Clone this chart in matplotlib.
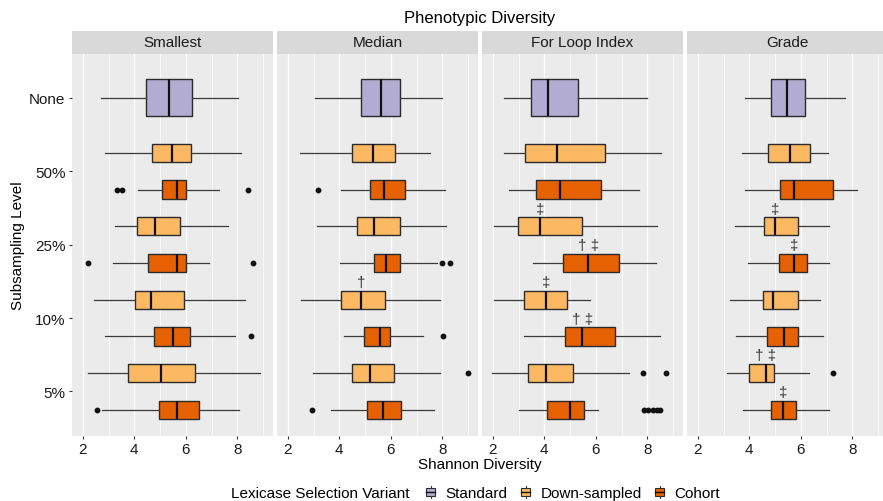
import matplotlib
matplotlib.use("Agg")
import matplotlib.pyplot as plt
from matplotlib.patches import Rectangle, Patch
from matplotlib.lines import Line2D
from matplotlib.legend_handler import HandlerBase

plt.rcParams["font.family"] = ["Liberation Sans", "DejaVu Sans"]

panels = ["Smallest", "Median", "For Loop Index", "Grade"]
levels = ["5%", "10%", "25%", "50%", "None"]
variants = ["Standard", "Down-sampled", "Cohort"]
colors = {"Standard": "#b2abd2", "Down-sampled": "#fdb863", "Cohort": "#e66101"}

# level, variant, whisker low, q1, median, q3, whisker high, outliers, significance mark
smallest = [
    ("None", "Standard", 2.70, 4.44, 5.34, 6.24, 8.02, [], ""),
    ("50%", "Down-sampled", 2.88, 4.68, 5.47, 6.20, 8.13, [], ""),
    ("50%", "Cohort", 4.16, 5.09, 5.65, 6.02, 7.28, [3.32, 3.53, 8.43], ""),
    ("25%", "Down-sampled", 3.25, 4.12, 4.82, 5.79, 7.63, [], ""),
    ("25%", "Cohort", 3.19, 4.55, 5.66, 6.00, 6.90, [2.19, 8.60], ""),
    ("10%", "Down-sampled", 2.45, 4.01, 4.65, 5.95, 8.29, [], ""),
    ("10%", "Cohort", 2.88, 4.78, 5.52, 6.18, 7.90, [8.52], ""),
    ("5%", "Down-sampled", 2.22, 3.77, 5.03, 6.35, 8.88, [], ""),
    ("5%", "Cohort", 2.74, 4.98, 5.65, 6.51, 8.05, [2.57], ""),
]
median = [
    ("None", "Standard", 3.06, 4.86, 5.62, 6.37, 7.98, [], ""),
    ("50%", "Down-sampled", 2.48, 4.51, 5.32, 6.17, 7.51, [], ""),
    ("50%", "Cohort", 4.07, 5.21, 5.75, 6.54, 8.11, [3.18], ""),
    ("25%", "Down-sampled", 3.14, 4.68, 5.36, 6.35, 8.13, [], ""),
    ("25%", "Cohort", 4.04, 5.36, 5.83, 6.37, 7.80, [7.98, 8.29], ""),
    ("10%", "Down-sampled", 2.52, 4.08, 4.85, 5.78, 7.90, [], "†"),
    ("10%", "Cohort", 4.17, 4.98, 5.60, 5.98, 7.24, [8.02], ""),
    ("5%", "Down-sampled", 2.98, 4.51, 5.18, 6.11, 7.90, [9.01], ""),
    ("5%", "Cohort", 3.68, 5.08, 5.71, 6.40, 7.67, [2.96], ""),
]
for_loop = [
    ("None", "Standard", 2.45, 3.47, 4.13, 5.30, 7.98, [], ""),
    ("50%", "Down-sampled", 2.45, 3.27, 4.51, 6.35, 8.53, [], ""),
    ("50%", "Cohort", 2.63, 3.66, 4.63, 6.19, 7.69, [], ""),
    ("25%", "Down-sampled", 2.03, 2.97, 3.85, 5.45, 8.36, [], "‡"),
    ("25%", "Cohort", 3.58, 4.72, 5.71, 6.89, 8.33, [], "† ‡"),
    ("10%", "Down-sampled", 2.03, 3.20, 4.07, 4.88, 5.76, [], "‡"),
    ("10%", "Cohort", 3.23, 4.82, 5.47, 6.76, 8.51, [], "† ‡"),
    ("5%", "Down-sampled", 1.96, 3.36, 4.07, 5.13, 7.30, [7.83, 8.71], ""),
    ("5%", "Cohort", 3.00, 4.12, 5.00, 5.54, 6.10, [7.89, 8.02, 8.24, 8.37, 8.50], ""),
]
grade = [
    ("None", "Standard", 3.83, 4.83, 5.48, 6.16, 7.71, [], ""),
    ("50%", "Down-sampled", 3.73, 4.74, 5.60, 6.36, 7.06, [], ""),
    ("50%", "Cohort", 3.83, 5.19, 5.74, 7.25, 8.19, [], ""),
    ("25%", "Down-sampled", 3.45, 4.57, 5.01, 5.90, 7.10, [], "‡"),
    ("25%", "Cohort", 3.94, 5.17, 5.74, 6.23, 7.10, [], "‡"),
    ("10%", "Down-sampled", 3.25, 4.52, 4.92, 5.90, 6.75, [], ""),
    ("10%", "Cohort", 3.49, 4.70, 5.35, 5.90, 6.86, [], ""),
    ("5%", "Down-sampled", 3.14, 3.99, 4.64, 4.95, 6.31, [7.27], "† ‡"),
    ("5%", "Cohort", 3.75, 4.83, 5.31, 5.83, 7.08, [], "‡"),
]
panel_rows = [smallest, median, for_loop, grade]

# vertical offset and box height for each variant within a level
offset = {"Standard": 0.0, "Down-sampled": 0.25, "Cohort": -0.25}
height = {"Standard": 0.5, "Down-sampled": 0.25, "Cohort": 0.25}

W, H = 883, 502
fig = plt.figure(figsize=(W / 100, H / 100), dpi=100)

panel_top, panel_bottom = 54.8, 436.5
panel_w = 201.6
lefts = [71.7, 276.7, 481.7, 686.7]
strip_h = 23.0 / (panel_bottom - panel_top)

for k, (name, rows) in enumerate(zip(panels, panel_rows)):
    ax = fig.add_axes([lefts[k] / W, 1 - panel_bottom / H, panel_w / W,
                       (panel_bottom - panel_top) / H])
    ax.set_facecolor("#ebebeb")
    for s in ax.spines.values():
        s.set_visible(False)

    for level, variant, lo, q1, med, q3, hi, fliers, mark in rows:
        y = levels.index(level) + 1 + offset[variant]
        h = height[variant]
        stats = [dict(whislo=lo, q1=q1, med=med, q3=q3, whishi=hi, fliers=fliers)]
        ax.bxp(stats, positions=[y], widths=[h], orientation="horizontal",
               patch_artist=True, showcaps=False, manage_ticks=False,
               boxprops=dict(facecolor=colors[variant], edgecolor="#2b2b2b", lw=1.0),
               whiskerprops=dict(color="#3a3a3a", lw=0.9),
               medianprops=dict(color="#111111", lw=1.6),
               flierprops=dict(marker="o", markerfacecolor="#111111",
                               markeredgecolor="#111111", markersize=3.2))
        if mark:
            ax.text(med, y + h / 2 + 0.02, mark, ha="center", va="bottom",
                    fontsize=11, color="#333333")

    ax.set_xlim(1.57, 9.40)
    ax.set_ylim(0.4, 5.6)
    ax.set_xticks([2, 4, 6, 8])
    ax.set_xticks([3, 5, 7, 9], minor=True)
    ax.grid(True, axis="x", which="major", color="white", lw=0.9)
    ax.grid(True, axis="x", which="minor", color="white", lw=0.5)
    ax.set_axisbelow(True)
    ax.tick_params(axis="x", which="minor", length=0)
    ax.tick_params(axis="both", which="major", length=2.5, width=0.8,
                   color="#333333", labelsize=11, labelcolor="#1a1a1a", pad=2)
    ax.set_yticks(range(1, len(levels) + 1))
    ax.set_yticks([], minor=True)
    if k == 0:
        ax.set_yticklabels(levels)
    else:
        ax.tick_params(axis="y", length=0, labelleft=False)

    ax.add_patch(Rectangle((0, 1), 1, strip_h, transform=ax.transAxes,
                           facecolor="#d9d9d9", edgecolor="none", clip_on=False))
    ax.text(0.5, 1 + strip_h / 2, name, transform=ax.transAxes, ha="center",
            va="center", fontsize=11, color="#1a1a1a")

center_x = (lefts[0] + lefts[-1] + panel_w) / 2 / W
fig.text(center_x, 1 - 18 / H, "Phenotypic Diversity", ha="center", va="center",
         fontsize=12, color="#000000")
fig.text(center_x, 1 - 465 / H, "Shannon Diversity", ha="center", va="center",
         fontsize=11, color="#000000")
fig.text(18 / W, 1 - 246 / H, "Subsampling Level", ha="center", va="center",
         rotation=90, fontsize=11, color="#000000")


class BoxKey(HandlerBase):
    def create_artists(self, legend, orig_handle, xdescent, ydescent,
                       width, height, fontsize, trans):
        cx = width / 2 - xdescent
        box = Rectangle((-xdescent + width * 0.1, -ydescent + height * 0.2),
                        width * 0.8, height * 0.6,
                        facecolor=orig_handle.get_facecolor(),
                        edgecolor="#2b2b2b", lw=0.8, transform=trans)
        whisk_lo = Line2D([cx, cx], [-ydescent, -ydescent + height * 0.2],
                          color="#3a3a3a", lw=0.8, transform=trans)
        whisk_hi = Line2D([cx, cx], [-ydescent + height * 0.8, -ydescent + height],
                          color="#3a3a3a", lw=0.8, transform=trans)
        mid = Line2D([-xdescent + width * 0.1, -xdescent + width * 0.9],
                     [-ydescent + height / 2] * 2, color="#111111", lw=1.0,
                     transform=trans)
        return [box, whisk_lo, whisk_hi, mid]


fig.text(231 / W, 1 - 494 / H, "Lexicase Selection Variant", ha="left",
         va="center", fontsize=11, color="#000000")
handles = [Patch(facecolor=colors[v]) for v in variants]
fig.legend(handles, variants, loc="center left", bbox_to_anchor=(425 / W, 1 - 494 / H),
           ncol=3, frameon=False, fontsize=11, handlelength=0.75, handleheight=0.9,
           handletextpad=0.6, columnspacing=0.8, borderpad=0, borderaxespad=0,
           handler_map={Patch: BoxKey()})

fig.savefig("out.png", dpi=100)
